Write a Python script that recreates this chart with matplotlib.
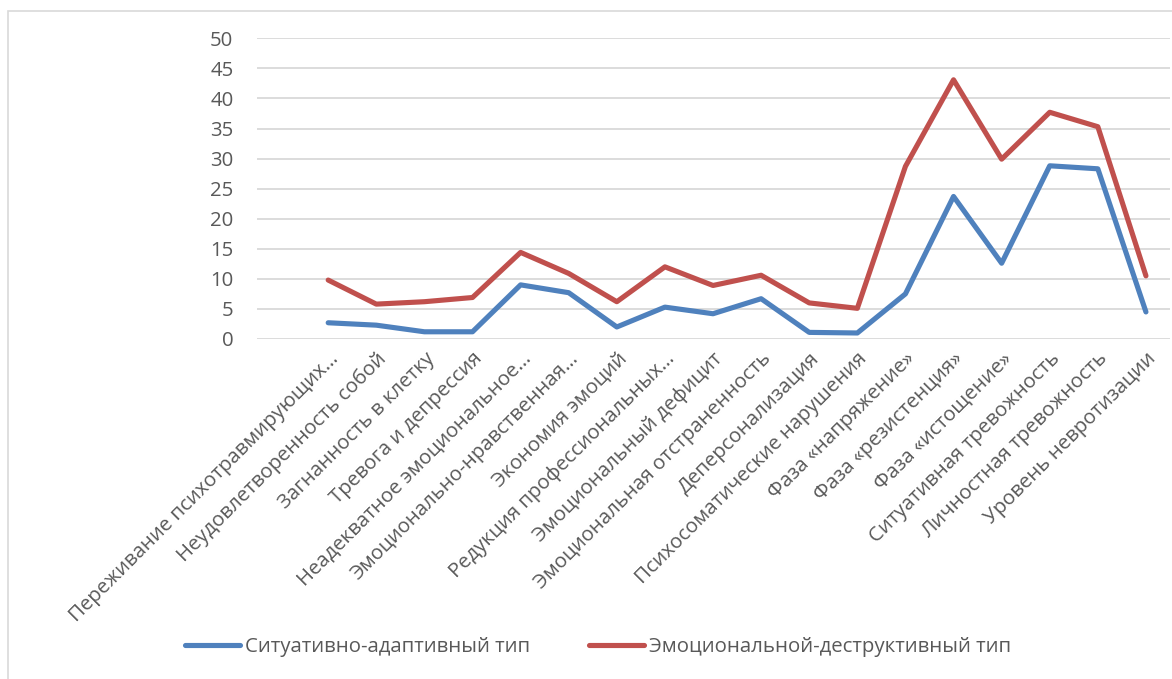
import numpy as np
import matplotlib.pyplot as plt
from matplotlib.patches import Rectangle

plt.rcParams['font.family'] = ['Open Sans', 'DejaVu Sans']

categories = [
    'Переживание психотравмирующих…',
    'Неудовлетворенность собой',
    'Загнанность в клетку',
    'Тревога и депрессия',
    'Неадекватное эмоциональное…',
    'Эмоционально-нравственная…',
    'Экономия эмоций',
    'Редукция профессиональных…',
    'Эмоциональный дефицит',
    'Эмоциональная отстраненность',
    'Деперсонализация',
    'Психосоматические нарушения',
    'Фаза «напряжение»',
    'Фаза «резистенция»',
    'Фаза «истощение»',
    'Ситуативная тревожность',
    'Личностная тревожность',
    'Уровень невротизации',
]
situative = [2.7, 2.3, 1.2, 1.2, 9.0, 7.7, 2.0, 5.3, 4.2, 6.7, 1.1, 1.0,
             7.5, 23.7, 12.6, 28.8, 28.3, 4.5]
emotional = [9.8, 5.8, 6.2, 6.9, 14.4, 10.9, 6.2, 12.0, 8.9, 10.6, 6.0, 5.1,
             28.7, 43.1, 29.9, 37.7, 35.3, 10.5]
series_names = ['Ситуативно-адаптивный тип', 'Эмоциональной-деструктивный тип']
yticks = list(range(0, 55, 5))

W, H = 1172, 679
fs = 14.7
fig = plt.figure(figsize=(W / 100, H / 100), dpi=100)
ax = fig.add_axes([257 / W, 1 - 339 / H, (1170 - 257) / W, (339 - 38.3) / H])

# chart border
fig.patches.append(Rectangle((8 / W, -0.1), 1.2, 1 - 11 / H + 0.1,
                             transform=fig.transFigure, fill=False,
                             edgecolor='#d9d9d9', lw=1.2))

x = np.arange(len(categories))
ax.plot(x, situative, color='#4F81BD', lw=3.7, solid_capstyle='round',
        solid_joinstyle='round', label=series_names[0], zorder=3)
ax.plot(x, emotional, color='#C0504D', lw=3.7, solid_capstyle='round',
        solid_joinstyle='round', label=series_names[1], zorder=3)

ax.set_ylim(0, 50)
ax.set_xlim(-1.48, len(categories) - 0.5)
ax.set_yticks(yticks)
ax.yaxis.grid(True, color='#d9d9d9', lw=1.3)
ax.set_axisbelow(True)
for s in ax.spines.values():
    s.set_visible(False)
ax.tick_params(axis='both', length=0, labelsize=fs, labelcolor='#595959')
ax.tick_params(axis='y', pad=17)

ax.set_xticks(x)
ax.set_xticklabels(categories, rotation=45, ha='right', rotation_mode='anchor')
ax.tick_params(axis='x', pad=7)

fig.legend(loc='center', bbox_to_anchor=(598 / W, 1 - 647 / H), ncol=2,
           frameon=False, fontsize=fs, labelcolor='#595959',
           handlelength=2.7, handletextpad=0.25, columnspacing=2.9)

fig.savefig('out.png', dpi=100)
